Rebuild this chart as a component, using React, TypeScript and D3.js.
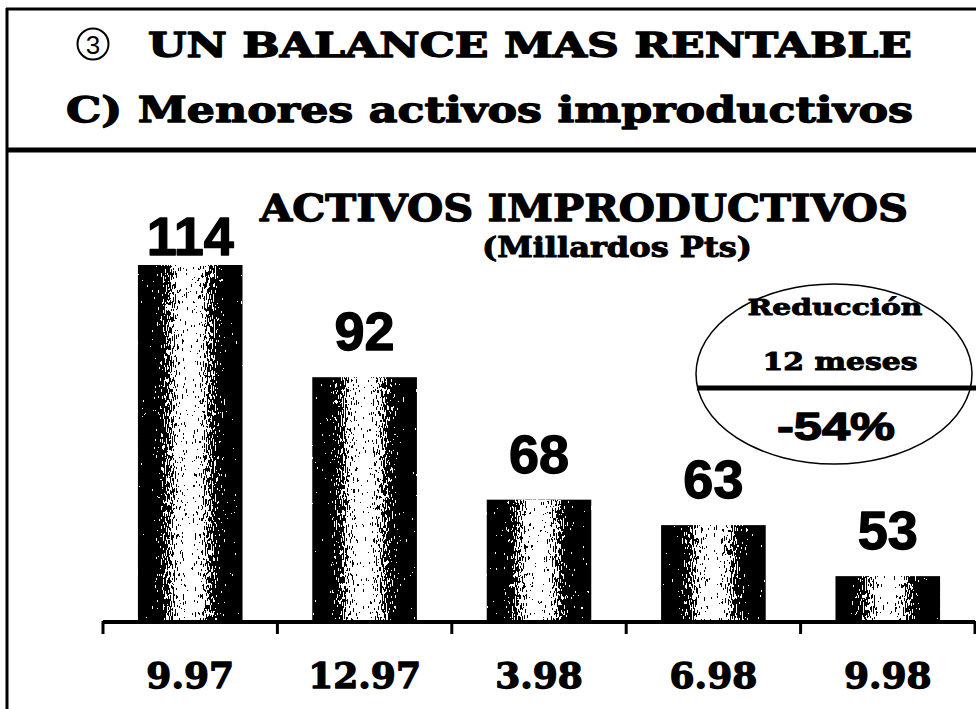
import * as d3 from "d3"

// chart data
const periods = ["9.97", "12.97", "3.98", "6.98", "9.98"]
const activos = [114, 92, 68, 63, 53]

const titleLine1 = "UN BALANCE MAS RENTABLE"
const titleLine2 = "C) Menores activos improductivos"
const chartTitle = "ACTIVOS IMPRODUCTIVOS"
const chartUnit = "(Millardos Pts)"
const noteLines = ["Reducción", "12 meses"]
const noteValue = "-54%"

const W = 976
const H = 709
const SERIF = "'DejaVu Serif', serif"
const SANS = "'Liberation Sans', Arial, sans-serif"

// heavy slab look of the scanned slide: bold + a thin outline
const heavy = { stroke: "#000", strokeWidth: 1.3, strokeLinejoin: "round" as const }

export default function App() {
  const x = d3
    .scaleBand<string>()
    .domain(periods)
    .range([103, 975])
    .paddingInner(0.4)
    .paddingOuter(0.2)

  // axis doesn't start at zero in the original slide
  const y = d3.scaleLinear().domain([44.4, 114]).range([620, 265])
  const baseY = y(44.4)
  const step = x.step()
  const tickXs = d3.range(periods.length + 1).map((i) => x.range()[0] + i * step)

  return (
    <svg
      width={W}
      height={H}
      viewBox={`0 0 ${W} ${H}`}
      style={{ position: "absolute", left: 0, top: 0, background: "#fff" }}
    >
      <defs>
        <linearGradient id="cyl" x1="0" x2="1" y1="0" y2="0">
          <stop offset="0" stopColor="#000" />
          <stop offset="0.14" stopColor="#000" />
          <stop offset="0.24" stopColor="#444" />
          <stop offset="0.38" stopColor="#bcbcbc" />
          <stop offset="0.5" stopColor="#f4f4f4" />
          <stop offset="0.62" stopColor="#b0b0b0" />
          <stop offset="0.76" stopColor="#383838" />
          <stop offset="0.86" stopColor="#000" />
          <stop offset="1" stopColor="#000" />
        </linearGradient>
        {/* dithered, streaky look of the printed gradient */}
        <filter id="dither" colorInterpolationFilters="sRGB" x="0" y="0" width="1" height="1">
          <feTurbulence type="fractalNoise" baseFrequency="0.9 0.18" numOctaves={2} seed={5} result="n" />
          <feColorMatrix
            in="n"
            type="matrix"
            values="1.8 0 0 0 -0.4  1.8 0 0 0 -0.4  1.8 0 0 0 -0.4  0 0 0 0 1"
            result="g"
          />
          <feComposite in="SourceGraphic" in2="g" operator="arithmetic" k1={0} k2={1} k3={1} k4={-0.5} result="s" />
          <feComponentTransfer in="s" result="b">
            <feFuncR type="discrete" tableValues="0 1" />
            <feFuncG type="discrete" tableValues="0 1" />
            <feFuncB type="discrete" tableValues="0 1" />
          </feComponentTransfer>
          <feComposite in="b" in2="SourceGraphic" operator="in" />
        </filter>
      </defs>

      {/* frames */}
      <line x1={6} x2={W} y1={9} y2={9} stroke="#000" strokeWidth={3} />
      <line x1={7} x2={7} y1={8} y2={H} stroke="#000" strokeWidth={3} />
      <line x1={6} x2={W} y1={150} y2={150} stroke="#000" strokeWidth={5} />

      {/* heading */}
      <circle cx={93} cy={44} r={15.5} fill="none" stroke="#000" strokeWidth={2} />
      <text x={93} y={53.5} textAnchor="middle" fontFamily={SANS} fontSize={26}>
        3
      </text>
      <text
        x={148}
        y={57}
        fontFamily={SERIF}
        fontWeight="bold"
        fontSize={33}
        textLength={764}
        lengthAdjust="spacingAndGlyphs"
        {...heavy}
      >
        {titleLine1}
      </text>
      <text
        x={66}
        y={122}
        fontFamily={SERIF}
        fontWeight="bold"
        fontSize={36}
        textLength={847}
        lengthAdjust="spacingAndGlyphs"
        {...heavy}
      >
        {titleLine2}
      </text>

      {/* chart title */}
      <text
        x={260}
        y={221}
        fontFamily={SERIF}
        fontWeight="bold"
        fontSize={38}
        textLength={648}
        lengthAdjust="spacingAndGlyphs"
        {...heavy}
      >
        {chartTitle}
      </text>
      <text
        x={482}
        y={257}
        fontFamily={SERIF}
        fontWeight="bold"
        fontSize={27}
        textLength={270}
        lengthAdjust="spacingAndGlyphs"
        {...heavy}
        strokeWidth={1}
      >
        {chartUnit}
      </text>

      {/* bars */}
      {activos.map((v, i) => (
        <rect
          key={periods[i]}
          x={x(periods[i])}
          y={y(v)}
          width={x.bandwidth()}
          height={baseY - y(v)}
          fill="url(#cyl)"
          filter="url(#dither)"
        />
      ))}

      {/* value labels */}
      {activos.map((v, i) => (
        <text
          key={"l" + periods[i]}
          x={(x(periods[i]) || 0) + x.bandwidth() / 2}
          y={Math.max(y(v) - 27, 255)}
          textAnchor="middle"
          fontFamily={SANS}
          fontWeight="bold"
          fontSize={54}
          {...heavy}
        >
          {v}
        </text>
      ))}

      {/* reduction note */}
      <ellipse cx={834} cy={374} rx={138} ry={90} fill="#fff" stroke="#000" strokeWidth={1.5} />
      <line x1={697} x2={W} y1={388} y2={388} stroke="#000" strokeWidth={5} />
      <text
        x={835}
        y={315}
        textAnchor="middle"
        fontFamily={SERIF}
        fontWeight="bold"
        fontSize={22}
        textLength={175}
        lengthAdjust="spacingAndGlyphs"
        {...heavy}
        strokeWidth={0.9}
      >
        {noteLines[0]}
      </text>
      <text
        x={840}
        y={370}
        textAnchor="middle"
        fontFamily={SERIF}
        fontWeight="bold"
        fontSize={25}
        textLength={155}
        lengthAdjust="spacingAndGlyphs"
        {...heavy}
        strokeWidth={1}
      >
        {noteLines[1]}
      </text>
      <text
        x={836}
        y={440}
        textAnchor="middle"
        fontFamily={SANS}
        fontWeight="bold"
        fontSize={38}
        textLength={118}
        lengthAdjust="spacingAndGlyphs"
        {...heavy}
      >
        {noteValue}
      </text>

      {/* x axis */}
      <line x1={x.range()[0]} x2={x.range()[1]} y1={622} y2={622} stroke="#000" strokeWidth={4} />
      {tickXs.map((tx, i) => (
        <line key={"t" + i} x1={tx} x2={tx} y1={621} y2={634} stroke="#000" strokeWidth={3} />
      ))}
      {periods.map((p) => (
        <text
          key={"x" + p}
          x={(x(p) || 0) + x.bandwidth() / 2}
          y={688}
          textAnchor="middle"
          fontFamily={SERIF}
          fontWeight="bold"
          fontSize={36}
          {...heavy}
        >
          {p}
        </text>
      ))}
    </svg>
  )
}
